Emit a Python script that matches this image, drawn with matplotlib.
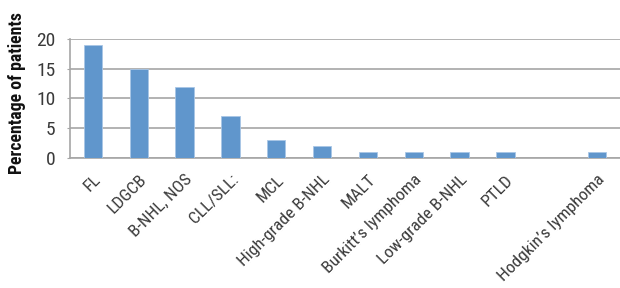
import matplotlib.pyplot as plt

categories = ['FL', 'LDGCB', 'B-NHL, NOS', 'CLL/SLL:', 'MCL', 'High-grade B-NHL',
              'MALT', 'Burkitt\u2019s lymphoma', 'Low-grade B-NHL', 'PTLD', '',
              'Hodgkin\u2019s lymphoma']
values = [19, 15, 12, 7, 3, 2, 1, 1, 1, 1, 0, 1]
yticks = [0, 5, 10, 15, 20]

plt.rcParams['font.family'] = ['Roboto Condensed', 'DejaVu Sans']

fig = plt.figure(figsize=(6.2, 2.88), dpi=100)
ax = fig.add_axes([0.113, 0.451, 0.887, 0.414])

x = range(len(categories))
ax.bar(x, values, width=0.4, color='#6096cc', edgecolor='#a9c6e6', linewidth=0.6, zorder=3)

ax.set_xlim(-0.5, len(categories) - 0.5)
ax.set_ylim(0, 20)
ax.set_yticks(yticks)
ax.set_yticklabels([str(t) for t in yticks], fontsize=14, color='#3a3a3a')
ax.yaxis.grid(True, color='#a6a6a6', linewidth=1.2, zorder=0)

ax.set_xticks(list(x))
ax.set_xticklabels(categories, rotation=45, ha='right', rotation_mode='anchor',
                   fontsize=12.5, color='#3a3a3a')
ax.tick_params(axis='x', length=0, pad=10)
ax.tick_params(axis='y', length=2.5, color='#a6a6a6', pad=8)

for s in ['top', 'right']:
    ax.spines[s].set_visible(False)
for s in ['left', 'bottom']:
    ax.spines[s].set_color('#a6a6a6')
    ax.spines[s].set_linewidth(1.2)

fig.text(0.027, 0.677, 'Percentage of patients', rotation=90, ha='center', va='center',
         fontsize=12.8, fontweight='bold', color='#111111')

fig.savefig('out.png', dpi=100)
